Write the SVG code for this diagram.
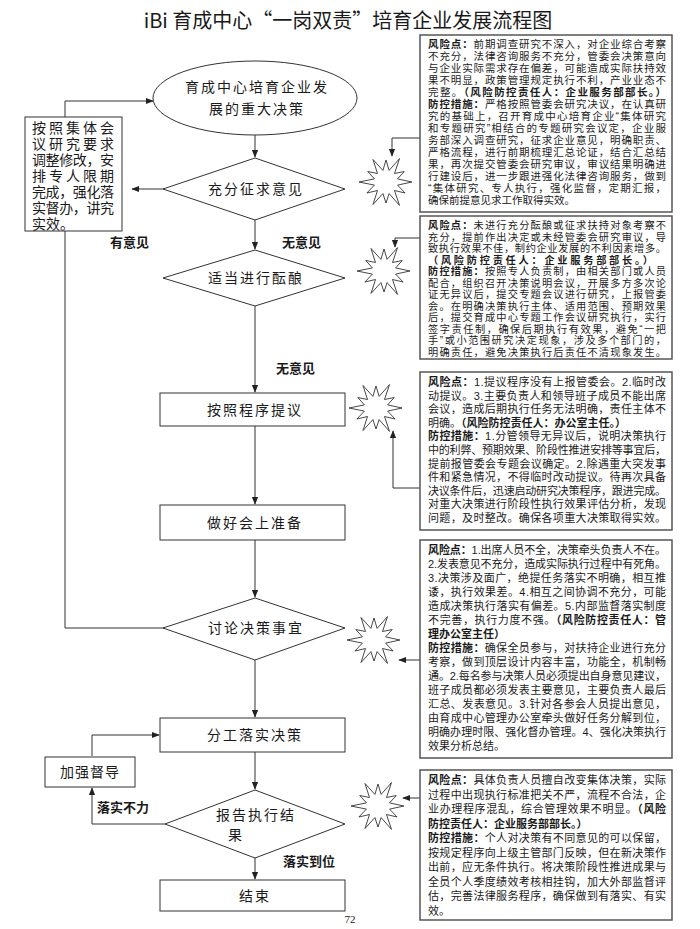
<svg xmlns="http://www.w3.org/2000/svg" width="700" height="929" viewBox="0 0 700 929">
<style>
.t{font-family:"Noto Sans CJK SC","Noto Sans",sans-serif;fill:#1a1a1a}
.rt{font-family:"Liberation Sans","Noto Sans CJK SC",sans-serif;fill:#1a1a1a}
.node{fill:#fff;stroke:#333;stroke-width:1}
.n{font-size:14px;letter-spacing:2px;text-anchor:middle}
.lb{font-size:13px;font-weight:bold}
.risk{fill:#fff;stroke:#555;stroke-width:1.5}
.r{font-size:11px}
.r1{font-size:10.5px}
.r2{font-size:10.2px}
.b{font-weight:bold}
.c{fill:none;stroke:#333;stroke-width:1}
.burst{fill:#fff;stroke:#333;stroke-width:0.9}
</style>
<defs>
<marker id="ah" viewBox="0 0 10 10" refX="9" refY="5" markerWidth="8" markerHeight="8" orient="auto" markerUnits="userSpaceOnUse">
<path d="M0,1 L10,5 L0,9 Z" fill="#222"/>
</marker>
<polygon id="burst" class="burst" points="26,0 11.6,3.1 19.1,11 8.5,8.5 13.5,23.4 3.1,11.6 0,21 -3.1,11.6 -13,22.5 -8.5,8.5 -19.1,11 -11.6,3.1 -27,0 -11.6,-3.1 -18.2,-10.5 -8.5,-8.5 -13,-22.5 -3.1,-11.6 0,-22 3.1,-11.6 13.5,-23.4 8.5,-8.5 18.2,-10.5 11.6,-3.1"/>
</defs>
<rect width="700" height="929" fill="#fff"/>
<text class="t" x="348" y="28" font-size="20" text-anchor="middle">iBi 育成中心“一岗双责”培育企业发展流程图</text>

<g id="connectors">
<path class="c" d="M255,135 V157" marker-end="url(#ah)"/>
<path class="c" d="M255,220 V249" marker-end="url(#ah)"/>
<path class="c" d="M255,306 V392" marker-end="url(#ah)"/>
<path class="c" d="M255,426 V504" marker-end="url(#ah)"/>
<path class="c" d="M255,540 V597" marker-end="url(#ah)"/>
<path class="c" d="M255,660 V717" marker-end="url(#ah)"/>
<path class="c" d="M255,752 V789" marker-end="url(#ah)"/>
<path class="c" d="M255,858 V879" marker-end="url(#ah)"/>
<path class="c" d="M164,189 H132" marker-end="url(#ah)"/>
<path class="c" d="M165,628 H65 V101 H153" marker-end="url(#ah)"/>
<path class="c" d="M92,756 V735 H159" marker-end="url(#ah)"/>
<path class="c" d="M165,824 H92 V788" marker-end="url(#ah)"/>
<path class="c" d="M420,138 H392 V156" marker-end="url(#ah)"/>
<path class="c" d="M420,238 H395 V247" marker-end="url(#ah)"/>
<path class="c" d="M420,488 H393 V431" marker-end="url(#ah)"/>
<path class="c" d="M420,660 H399" marker-end="url(#ah)"/>
<path class="c" d="M420,798 H403" marker-end="url(#ah)"/>
</g>

<g id="start">
<ellipse class="node" cx="255" cy="98" rx="102" ry="37"/>
<text class="t n" x="257" y="92">育成中心培育企业发</text>
<text class="t n" x="257" y="114">展的重大决策</text>
</g>

<g id="adjust">
<rect class="node" x="25" y="117" width="97" height="114"/>
<text class="rt" font-size="14"><tspan x="32" y="133" textLength="82" lengthAdjust="spacing">按照集体会</tspan><tspan x="32" y="149" textLength="82" lengthAdjust="spacing">议研究要求</tspan><tspan x="32" y="165" textLength="82" lengthAdjust="spacing">调整修改，安</tspan><tspan x="32" y="181" textLength="82" lengthAdjust="spacing">排专人限期</tspan><tspan x="32" y="197" textLength="82" lengthAdjust="spacing">完成，强化落</tspan><tspan x="32" y="213" textLength="82" lengthAdjust="spacing">实督办，讲究</tspan><tspan x="32" y="229">实效。</tspan></text>
</g>

<g id="d1">
<polygon class="node" points="255,158 345,189 255,220 163,189"/>
<text class="t n" x="256" y="194">充分征求意见</text>
</g>
<g id="d2">
<polygon class="node" points="255,250 345,278 255,306 163,278"/>
<text class="t n" x="256" y="283">适当进行酝酿</text>
</g>
<g id="p3">
<rect class="node" x="160" y="393" width="185" height="33"/>
<text class="t n" x="255" y="415">按照程序提议</text>
</g>
<g id="p4">
<rect class="node" x="160" y="505" width="185" height="35"/>
<text class="t n" x="255" y="528">做好会上准备</text>
</g>
<g id="d5">
<polygon class="node" points="255,598 345,628 255,660 163,628"/>
<text class="t n" x="256" y="633">讨论决策事宜</text>
</g>
<g id="p6">
<rect class="node" x="160" y="718" width="185" height="34"/>
<text class="t n" x="255" y="740">分工落实决策</text>
</g>
<g id="supervise">
<rect class="node" x="45" y="757" width="90" height="30"/>
<text class="t" x="90" y="777" font-size="14" text-anchor="middle" letter-spacing="1">加强督导</text>
</g>
<g id="d7">
<polygon class="node" points="255,790 345,824 255,858 165,824"/>
<text class="t n" x="256" y="820">报告执行结</text>
<text class="t n" x="236" y="840">果</text>
</g>
<g id="end">
<rect class="node" x="160" y="880" width="185" height="31"/>
<text class="t n" x="255" y="901" letter-spacing="6">结束</text>
</g>

<g id="labels">
<text class="t lb" x="110" y="247">有意见</text>
<text class="t lb" x="282" y="247">无意见</text>
<text class="t lb" x="276" y="373">无意见</text>
<text class="t lb" x="97" y="812">落实不力</text>
<text class="t lb" x="283" y="866">落实到位</text>
<text x="350" y="923" font-family="Liberation Serif,serif" font-size="11" text-anchor="middle" fill="#222">72</text>
</g>

<g id="bursts">
<use href="#burst" x="386" y="182"/>
<use href="#burst" x="384" y="271"/>
<use href="#burst" x="376" y="408"/>
<use href="#burst" x="374" y="640"/>
<use href="#burst" x="378" y="806"/>
</g>

<g id="risk1">
<rect class="risk" x="420" y="35" width="252" height="177"/>
<text class="rt r1"><tspan x="428" y="48" textLength="238"><tspan class="b">风险点：</tspan>前期调查研究不深入，对企业综合考察</tspan><tspan x="428" y="60" textLength="238">不充分，法律咨询服务不充分，管委会决策意向</tspan><tspan x="428" y="72" textLength="238">与企业实际需求存在偏差，可能造成实际扶持效</tspan><tspan x="428" y="84" textLength="238">果不明显，政策管理规定执行不利，产业业态不</tspan><tspan x="428" y="96" textLength="238">完整。<tspan class="b">（风险防控责任人：企业服务部部长。）</tspan></tspan><tspan x="428" y="108" textLength="238"><tspan class="b">防控措施：</tspan>严格按照管委会研究决议，在认真研</tspan><tspan x="428" y="120" textLength="238">究的基础上，召开育成中心培育企业“集体研究</tspan><tspan x="428" y="132" textLength="238">和专题研究”相结合的专题研究会议定，企业服</tspan><tspan x="428" y="144" textLength="238">务部深入调查研究，征求企业意见，明确职责、</tspan><tspan x="428" y="156" textLength="238">严格流程，进行前期梳理汇总论证，结合汇总结</tspan><tspan x="428" y="168" textLength="238">果，再次提交管委会研究审议，审议结果明确进</tspan><tspan x="428" y="180" textLength="238">行建设后，进一步跟进强化法律咨询服务，做到</tspan><tspan x="428" y="192" textLength="238">“集体研究、专人执行，强化监督，定期汇报，</tspan><tspan x="428" y="204">确保前提意见求工作取得实效。</tspan></text>
</g>

<g id="risk2">
<rect class="risk" x="420" y="216" width="252" height="143"/>
<text class="rt r2"><tspan x="428" y="229" textLength="238"><tspan class="b">风险点：</tspan>未进行充分酝酿或征求扶持对象考察不</tspan><tspan x="428" y="240.5" textLength="238">充分，提前作出决定或未经管委会研究审议，导</tspan><tspan x="428" y="252" textLength="238">致执行效果不佳，制约企业发展的不利因素增多。</tspan><tspan x="428" y="263.5" class="b" textLength="225">（风险防控责任人：企业服务部部长。）</tspan><tspan x="428" y="275" textLength="238"><tspan class="b">防控措施：</tspan>按照专人负责制，由相关部门或人员</tspan><tspan x="428" y="286.5" textLength="238">配合，组织召开决策说明会议，开展多方多次论</tspan><tspan x="428" y="298" textLength="238">证无异议后，提交专题会议进行研究，上报管委</tspan><tspan x="428" y="309.5" textLength="238">会。在明确决策执行主体、适用范围、预期效果</tspan><tspan x="428" y="321" textLength="238">后，提交育成中心专题工作会议研究执行，实行</tspan><tspan x="428" y="332.5" textLength="238">签字责任制，确保后期执行有效果，避免“一把</tspan><tspan x="428" y="344" textLength="238">手”或小范围研究决定现象，涉及多个部门的，</tspan><tspan x="428" y="355.5" textLength="238">明确责任，避免决策执行后责任不清现象发生。</tspan></text>
</g>

<g id="risk3">
<rect class="risk" x="420" y="372" width="252" height="158"/>
<text class="rt r"><tspan x="428" y="386" textLength="238"><tspan class="b">风险点：</tspan>1.提议程序没有上报管委会。2.临时改</tspan><tspan x="428" y="399.6" textLength="238">动提议。3.主要负责人和领导班子成员不能出席</tspan><tspan x="428" y="413.2" textLength="238">会议，造成后期执行任务无法明确，责任主体不</tspan><tspan x="428" y="426.8">明确。<tspan class="b">（风险防控责任人：办公室主任。）</tspan></tspan><tspan x="428" y="440.4" textLength="238"><tspan class="b">防控措施：</tspan>1.分管领导无异议后，说明决策执行</tspan><tspan x="428" y="454" textLength="238">中的利弊、预期效果、阶段性推进安排等事宜后，</tspan><tspan x="428" y="467.6" textLength="238">提前报管委会专题会议确定。2.除遇重大突发事</tspan><tspan x="428" y="481.2" textLength="238">件和紧急情况，不得临时改动提议。待再次具备</tspan><tspan x="428" y="494.8" textLength="238">决议条件后，迅速启动研究决策程序，跟进完成。</tspan><tspan x="428" y="508.4" textLength="238">对重大决策进行阶段性执行效果评估分析，发现</tspan><tspan x="428" y="522" textLength="238">问题，及时整改。确保各项重大决策取得实效。</tspan></text>
</g>

<g id="risk4">
<rect class="risk" x="420" y="540" width="252" height="218"/>
<text class="rt r"><tspan x="428" y="554" textLength="238"><tspan class="b">风险点：</tspan>1.出席人员不全，决策牵头负责人不在。</tspan><tspan x="428" y="568" textLength="238">2.发表意见不充分，造成实际执行过程中有死角。</tspan><tspan x="428" y="582" textLength="238">3.决策涉及面广，绝提任务落实不明确，相互推</tspan><tspan x="428" y="596" textLength="238">诿，执行效果差。4.相互之间协调不充分，可能</tspan><tspan x="428" y="610" textLength="238">造成决策执行落实有偏差。5.内部监督落实制度</tspan><tspan x="428" y="624" textLength="238">不完善，执行力度不强。<tspan class="b">（风险防控责任人：管</tspan></tspan><tspan x="428" y="638" class="b">理办公室主任）</tspan><tspan x="428" y="652" textLength="238"><tspan class="b">防控措施：</tspan>确保全员参与，对扶持企业进行充分</tspan><tspan x="428" y="666" textLength="238">考察，做到顶层设计内容丰富，功能全，机制畅</tspan><tspan x="428" y="680" textLength="238">通。2.每名参与决策人员必须提出自身意见建议，</tspan><tspan x="428" y="694" textLength="238">班子成员都必须发表主要意见，主要负责人最后</tspan><tspan x="428" y="708" textLength="238">汇总、发表意见。3.针对各参会人员提出意见，</tspan><tspan x="428" y="722" textLength="238">由育成中心管理办公室牵头做好任务分解到位，</tspan><tspan x="428" y="736" textLength="238">明确办理时限、强化督办管理。4、强化决策执行</tspan><tspan x="428" y="750">效果分析总结。</tspan></text>
</g>

<g id="risk5">
<rect class="risk" x="420" y="770" width="252" height="150"/>
<text class="rt r"><tspan x="428" y="784" textLength="238"><tspan class="b">风险点：</tspan>具体负责人员擅自改变集体决策，实际</tspan><tspan x="428" y="798.5" textLength="238">过程中出现执行标准把关不严，流程不合法，企</tspan><tspan x="428" y="813" textLength="238">业办理程序混乱，综合管理效果不明显。<tspan class="b">（风险</tspan></tspan><tspan x="428" y="827.5" class="b">防控责任人：企业服务部部长。）</tspan><tspan x="428" y="842" textLength="238"><tspan class="b">防控措施：</tspan>个人对决策有不同意见的可以保留，</tspan><tspan x="428" y="856.5" textLength="238">按规定程序向上级主管部门反映，但在新决策作</tspan><tspan x="428" y="871" textLength="238">出前，应无条件执行。将决策阶段性推进成果与</tspan><tspan x="428" y="885.5" textLength="238">全员个人季度绩效考核相挂钩，加大外部监督评</tspan><tspan x="428" y="900" textLength="238">估，完善法律服务程序，确保做到有落实、有实</tspan><tspan x="428" y="914.5">效。</tspan></text>
</g>
</svg>
